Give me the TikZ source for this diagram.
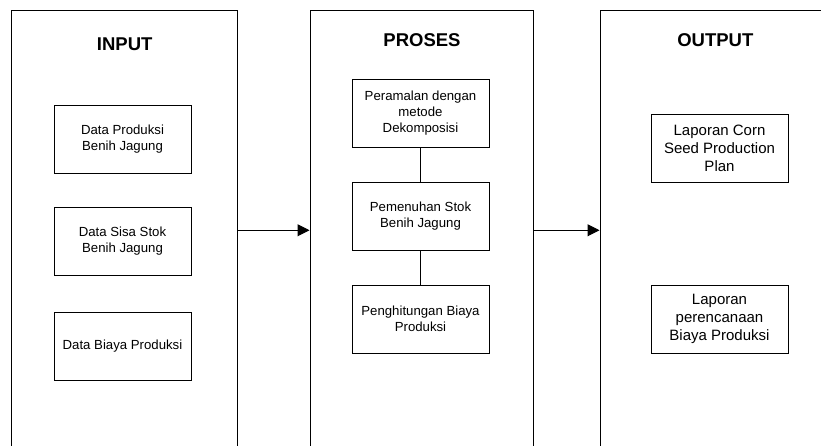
\documentclass[tikz,border=0pt]{standalone}
\usepackage{fontspec}
\setmainfont{Liberation Sans}
\usetikzlibrary{arrows.meta}
\begin{document}
\begin{tikzpicture}[x=1pt,y=-1pt,
  panel/.style={draw, line width=1pt, rectangle, minimum height=439.5pt, inner sep=0pt},
  head/.style={font=\fontsize{18.5}{22}\selectfont\bfseries, inner sep=0pt},
  item/.style={draw, line width=1pt, rectangle, minimum width=137pt, minimum height=68pt,
    align=center, inner sep=2pt, font=\fontsize{13.2}{16}\selectfont},
  outitem/.style={item, font=\fontsize{15}{18}\selectfont},
  flow/.style={line width=1pt, -{Triangle[length=12pt,width=12pt]}},
  link/.style={line width=1pt}]
\useasboundingbox (0,0) rectangle (821,445);
\clip (0,0) rectangle (821,445);

% three column frames, open at the bottom (and right for the last one)
\node[panel, minimum width=225.5pt] (inp) at (124.25,230.25) {};
\node[panel, minimum width=223pt]   (pro) at (421.5,230.25) {};
\node[panel, minimum width=260pt]   (out) at (730,230.25) {};

% column headings
\node[head] (hin)  at (124.7,44.5) {INPUT};
\node[head] (hpro) at (422,40)     {PROSES};
\node[head] (hout) at (715.3,40)   {OUTPUT};

% input data
\node[item] (i1) at (122.5,139)   {Data Produksi\\Benih Jagung};
\node[item] (i2) at (122.5,241.5) {Data Sisa Stok\\Benih Jagung};
\node[item] (i3) at (122.5,346)   {Data Biaya Produksi};

% process steps
\node[item] (p1) at (420.5,113) {Peramalan dengan\\metode\\Dekomposisi};
\node[item] (p2) at (420.5,216) {Pemenuhan Stok\\Benih Jagung};
\node[item] (p3) at (420.5,319) {Penghitungan Biaya\\Produksi};

% outputs
\node[outitem] (o1) at (719.5,148) {Laporan Corn\\Seed Production\\Plan};
\node[outitem] (o2) at (719.5,319) {Laporan\\perencanaan\\Biaya Produksi};

% connections
\draw[link] (p1) -- (p2);
\draw[link] (p2) -- (p3);
\draw[flow] (inp.east) -- (pro.west);
\draw[flow] (pro.east) -- (out.west);
\end{tikzpicture}
\end{document}
